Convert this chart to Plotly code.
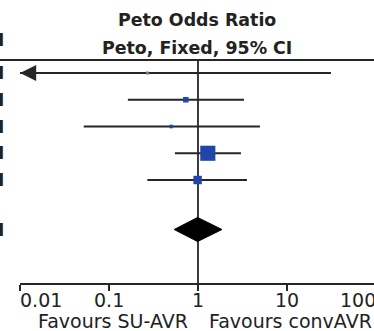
import math
import plotly.graph_objects as go

# ---- data ----
study_rows = [1, 2, 3, 4, 5]
odds_ratio = [0.27, 0.73, 0.50, 1.29, 0.99]
ci_lower = [0.002, 0.163, 0.052, 0.55, 0.27]
ci_upper = [31.2, 3.29, 4.97, 3.04, 3.55]
weights = [1.0, 6.0, 2.5, 45.0, 14.0]   # % weight
pooled_row = 6.85
pooled_or = 0.99
pooled_lower = 0.54
pooled_upper = 1.86
tick_values = [0.01, 0.1, 1, 10, 100]
tick_labels = ["0.01", "0.1", "1", "10", "100"]
title_lines = ["Peto Odds Ratio", "Peto, Fixed, 95% CI"]
favours = ["Favours SU-AVR", "Favours convAVR"]

FONT = "DejaVu Sans"
TXT = "#222222"
LINE = "#262626"
BLUE = "#1f44aa"
XMIN, XMAX = -2.0, 1.978
YRANGE = [8.85, 0.514]
ML, MT, MB, W, H = 20, 60, 48, 374, 331
PW = W - ML

fig = go.Figure()

# CI lines (clip at axis min for arrows)
xs, ys = [], []
for r, lo, hi in zip(study_rows, ci_lower, ci_upper):
    xs += [max(lo, 10 ** XMIN), hi, None]
    ys += [r, r, None]
fig.add_trace(go.Scatter(x=xs, y=ys, mode="lines",
                         line=dict(color=LINE, width=1.8), hoverinfo="skip",
                         cliponaxis=False))

# line of no effect
fig.add_trace(go.Scatter(x=[1, 1], y=[YRANGE[1], YRANGE[0]], mode="lines",
                         line=dict(color=LINE, width=1.8), hoverinfo="skip",
                         cliponaxis=False))

# point estimates
sizes = [max(3, 2.25 * math.sqrt(w)) for w in weights]
colors = ["#777777" if w < 2 else BLUE for w in weights]
fig.add_trace(go.Scatter(x=odds_ratio, y=study_rows, mode="markers",
                         marker=dict(symbol="square", size=sizes, color=colors,
                                     opacity=1, line=dict(width=0)),
                         cliponaxis=False))

# pooled diamond
h = 0.45
fig.add_trace(go.Scatter(
    x=[pooled_lower, pooled_or, pooled_upper, pooled_or, pooled_lower],
    y=[pooled_row, pooled_row - h, pooled_row, pooled_row + h, pooled_row],
    mode="lines", fill="toself", fillcolor="#000000",
    line=dict(color="#000000", width=1), hoverinfo="skip"))

annotations = []
# arrows for CIs running off the axis
for r, lo in zip(study_rows, ci_lower):
    if lo < 10 ** XMIN:
        annotations.append(dict(x=XMIN, y=r, ax=XMIN + 0.15, ay=r,
                                xref="x", yref="y", axref="x", ayref="y",
                                text="", showarrow=True, arrowhead=2,
                                arrowsize=1.8, arrowwidth=1.8, arrowcolor=LINE))

def paper_x(v):
    return (math.log10(v) - XMIN) / (XMAX - XMIN)

tfont = dict(family=FONT, size=19, color=TXT)
# tick labels (end labels kept inside the axis span)
for v, lab in zip(tick_values, tick_labels):
    if v == tick_values[0]:
        anchor, shift = "left", -2
    elif v == tick_values[-1]:
        anchor, shift = "right", 2
    else:
        anchor, shift = "center", 0
    annotations.append(dict(x=paper_x(v), y=0, xref="paper", yref="paper", text=lab,
                            showarrow=False, xanchor=anchor, xshift=shift,
                            yanchor="middle", yshift=-17, font=tfont))

# favours labels
annotations.append(dict(x=paper_x(1), y=0, xref="paper", yref="paper", text=favours[0],
                        showarrow=False, xanchor="right", yanchor="middle", xshift=-8,
                        yshift=-38, font=tfont))
annotations.append(dict(x=paper_x(1), y=0, xref="paper", yref="paper", text=favours[1],
                        showarrow=False, xanchor="left", yanchor="middle", xshift=9,
                        yshift=-38, font=tfont))

# title (two lines)
for i, line in enumerate(title_lines):
    annotations.append(dict(x=paper_x(1), y=1, xref="paper", yref="paper",
                            text="<b>" + line + "</b>", showarrow=False,
                            xanchor="center", yanchor="middle", xshift=-1,
                            yshift=40 - 28 * i,
                            font=dict(family=FONT, size=17.4, color=TXT)))

# cut-off left column glyphs
gfont = dict(family=FONT, size=17, color="#222")
for r in study_rows + [pooled_row]:
    annotations.append(dict(x=0, y=r, xref="paper", yref="y", text="<b>I</b>",
                            showarrow=False, xanchor="right", yanchor="middle",
                            xshift=-14, font=gfont))
annotations.append(dict(x=0, y=1, xref="paper", yref="paper", text="<b>I</b>",
                        showarrow=False, xanchor="right", yanchor="middle", yshift=20,
                        xshift=-14, font=gfont))

shapes = [dict(type="line", xref="paper", yref="paper", x0=-0.1, x1=1.05, y0=1, y1=1,
               line=dict(color=LINE, width=1.8))]

fig.update_layout(
    width=W, height=H,
    margin=dict(l=ML, r=0, t=MT, b=MB),
    paper_bgcolor="white", plot_bgcolor="white",
    showlegend=False,
    xaxis=dict(type="log", range=[XMIN, XMAX], tickvals=tick_values,
               showticklabels=False,
               ticks="outside", ticklen=6, tickwidth=1.8, tickcolor=LINE,
               showline=True, linecolor=LINE, linewidth=1.8, showgrid=False,
               zeroline=False, fixedrange=True),
    xaxis2=dict(type="log", range=[XMIN, XMAX], overlaying="x", matches="x",
                tickvals=tick_values, showticklabels=False,
                ticks="inside", ticklen=6, tickwidth=1.8, tickcolor=LINE,
                showline=False, showgrid=False, zeroline=False),
    yaxis=dict(range=YRANGE, visible=False, fixedrange=True),
    annotations=annotations, shapes=shapes,
)

fig.write_html("out.html")
